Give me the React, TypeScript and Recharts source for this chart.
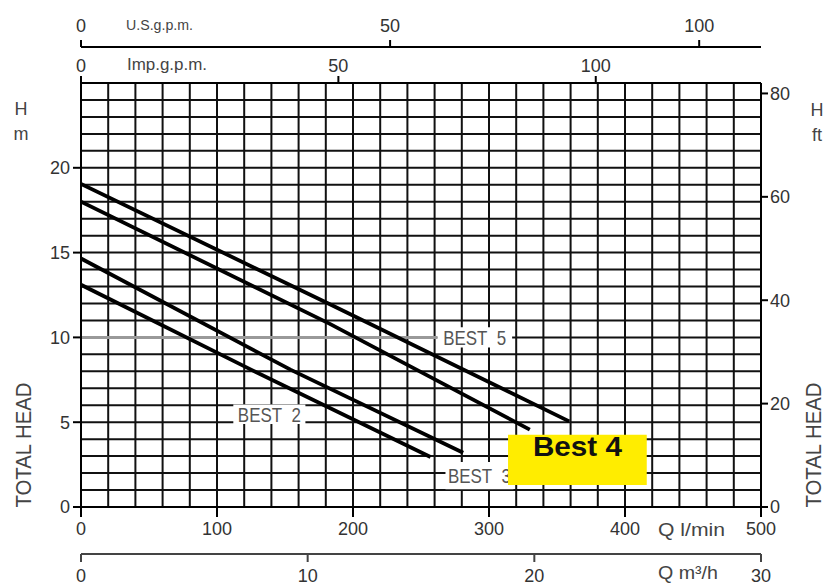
import React from 'react';
import {
  LineChart,
  Line,
  XAxis,
  YAxis,
  CartesianGrid,
  ReferenceArea,
  ReferenceLine,
} from 'recharts';

// pump curves, flow Q in l/min, head H in m
const best2 = [
  { q: 0, h: 13.1 },
  { q: 125, h: 8.1 },
  { q: 257, h: 2.95 },
];
const best3 = [
  { q: 0, h: 14.65 },
  { q: 154, h: 8.1 },
  { q: 281, h: 3.2 },
];
const best4 = [
  { q: 0, h: 18.0 },
  { q: 183, h: 10.8 },
  { q: 330, h: 4.56 },
];
const best5 = [
  { q: 0, h: 19.05 },
  { q: 183, h: 11.95 },
  { q: 359, h: 5.05 },
];

const qTicks = [0, 100, 200, 300, 400, 500];
const m3Ticks = [0, 10, 20, 30];
const usTicks = [0, 50, 100];
const impTicks = [0, 50, 100];
const mTicks = [0, 5, 10, 15, 20];
const ftTicks = [0, 20, 40, 60, 80];
const gridQ = [0, 20, 40, 60, 80, 100, 120, 140, 160, 180, 200, 220, 240, 260, 280, 300, 320, 340, 360, 380, 400, 420, 440, 460, 480, 500];
const gridH = [0, 1, 2, 3, 4, 5, 6, 7, 8, 9, 10, 11, 12, 13, 14, 15, 16, 17, 18, 19, 20, 21, 22, 23, 24, 25];

// chart-level rows so that the unit axes without series still get a domain
const baseRows = qTicks.map((q) => ({ q }));

const FONT = '"Liberation Sans", Arial, sans-serif';
const tickStyle = { fontSize: 18, fill: '#333', fontFamily: FONT };

const BoxLabel = (props: any) => {
  const { viewBox, text, size = 21, weight = 'normal', len, dy, color = '#555' } = props;
  if (!viewBox) return null;
  const { x, y, width, height } = viewBox;
  const cy = dy != null ? y + dy : y + height / 2;
  return (
    <text
      x={x + width / 2}
      y={cy}
      textAnchor="middle"
      dominantBaseline="central"
      fontSize={size}
      fontWeight={weight}
      fontFamily={FONT}
      fill={color}
      textLength={len}
      lengthAdjust="spacingAndGlyphs"
      style={{ whiteSpace: 'pre' }}
    >
      {text}
    </text>
  );
};

const curveProps = {
  dataKey: 'h',
  xAxisId: 'b1',
  yAxisId: 'm',
  type: 'linear' as const,
  dot: false,
  stroke: '#000',
  strokeWidth: 3.8,
  isAnimationActive: false,
};

const blackLine = { stroke: '#000', strokeWidth: 2 };

export default function App() {
  return (
    <div style={{ position: 'absolute', left: 0, top: 0, width: 825, height: 588 }}>
      <LineChart width={825} height={588} data={baseRows} margin={{ top: 0, right: 0, bottom: 0, left: 0 }}>
        {/* Q l/min */}
        <XAxis
          xAxisId="b1"
          dataKey="q"
          type="number"
          orientation="bottom"
          domain={[0, 500]}
          ticks={qTicks}
          interval={0}
          allowDataOverflow
          height={47}
          tickSize={10}
          tickMargin={5}
          tick={tickStyle}
          axisLine={blackLine}
          tickLine={blackLine}
        />
        {/* Q m3/h */}
        <XAxis
          xAxisId="b2"
          dataKey="q"
          type="number"
          orientation="bottom"
          domain={[0, 30]}
          ticks={m3Ticks}
          interval={0}
          allowDataOverflow
          height={34}
          tickSize={8}
          tickMargin={7}
          tick={tickStyle}
          axisLine={{ stroke: '#444', strokeWidth: 2 }}
          tickLine={{ stroke: '#444', strokeWidth: 2 }}
        />
        {/* Imp.g.p.m. */}
        <XAxis
          xAxisId="t1"
          dataKey="q"
          type="number"
          orientation="top"
          domain={[0, 132.1]}
          ticks={impTicks}
          interval={0}
          allowDataOverflow
          height={36}
          tickSize={7}
          tickMargin={4}
          tick={tickStyle}
          axisLine={blackLine}
          tickLine={blackLine}
        />
        {/* U.S.g.p.m. */}
        <XAxis
          xAxisId="t2"
          dataKey="q"
          type="number"
          orientation="top"
          domain={[0, 110]}
          ticks={usTicks}
          interval={0}
          allowDataOverflow
          height={47}
          tickSize={7}
          tickMargin={8}
          tick={tickStyle}
          axisLine={blackLine}
          tickLine={blackLine}
        />
        <YAxis
          yAxisId="m"
          type="number"
          orientation="left"
          domain={[0, 25]}
          ticks={mTicks}
          interval={0}
          allowDataOverflow
          width={81}
          tickSize={8}
          tickMargin={3}
          tick={tickStyle}
          axisLine={blackLine}
          tickLine={blackLine}
        />
        <YAxis
          yAxisId="ft"
          type="number"
          orientation="right"
          domain={[0, 82.02]}
          ticks={ftTicks}
          interval={0}
          allowDataOverflow
          width={64}
          tickSize={7}
          tickMargin={2}
          tick={tickStyle}
          axisLine={blackLine}
          tickLine={blackLine}
        />
        <CartesianGrid
          xAxisId="b1"
          yAxisId="m"
          verticalValues={gridQ}
          horizontalValues={gridH}
          stroke="#111"
          strokeWidth={2}
        />
        <ReferenceLine
          xAxisId="b1"
          yAxisId="m"
          segment={[{ x: 0, y: 10 }, { x: 262, y: 10 }]}
          stroke="#999"
          strokeWidth={3}
        />
        <ReferenceArea
          xAxisId="b1"
          yAxisId="m"
          x1={262}
          x2={317}
          y1={9.4}
          y2={10.6}
          fill="#fff"
          fillOpacity={1}
          stroke="none"
          label={<BoxLabel text={'BEST\u00A0\u00A05'} len={63} />}
        />
        <ReferenceArea
          xAxisId="b1"
          yAxisId="m"
          x1={112}
          x2={165}
          y1={4.9}
          y2={6.05}
          fill="#fff"
          fillOpacity={1}
          stroke="none"
          label={<BoxLabel text={'BEST\u00A0\u00A02'} len={63} />}
        />
        <ReferenceArea
          xAxisId="b1"
          yAxisId="m"
          x1={268}
          x2={318}
          y1={1.05}
          y2={2.65}
          fill="#fff"
          fillOpacity={1}
          stroke="none"
          label={<BoxLabel text={'BEST\u00A0\u00A03'} len={63} />}
        />
        <ReferenceArea
          xAxisId="b1"
          yAxisId="m"
          x1={314}
          x2={416}
          y1={1.3}
          y2={4.26}
          fill="#ffed00"
          fillOpacity={1}
          stroke="none"
          label={<BoxLabel text="Best 4" size={28} weight="bold" len={89} dy={12} color="#111" />}
        />
        <Line data={best2} {...curveProps} />
        <Line data={best3} {...curveProps} />
        <Line data={best4} {...curveProps} />
        <Line data={best5} {...curveProps} />
      </LineChart>
      <svg
        width={825}
        height={588}
        style={{ position: 'absolute', left: 0, top: 0, pointerEvents: 'none' }}
        fontFamily={FONT}
        fill="#444"
      >
        <text x={126} y={30} fontSize={15} textLength={67} lengthAdjust="spacingAndGlyphs">U.S.g.p.m.</text>
        <text x={127} y={70} fontSize={16} textLength={80} lengthAdjust="spacingAndGlyphs">Imp.g.p.m.</text>
        <text x={21} y={115} fontSize={18} textAnchor="middle">H</text>
        <text x={21} y={140} fontSize={18} textAnchor="middle">m</text>
        <text x={817} y={116} fontSize={18} textAnchor="middle">H</text>
        <text x={817} y={141} fontSize={18} textAnchor="middle">ft</text>
        <text
          transform="translate(31,445) rotate(-90)"
          fontSize={22}
          textAnchor="middle"
          textLength={125}
          lengthAdjust="spacingAndGlyphs"
        >
          TOTAL HEAD
        </text>
        <text
          transform="translate(821,445) rotate(-90)"
          fontSize={22}
          textAnchor="middle"
          textLength={125}
          lengthAdjust="spacingAndGlyphs"
        >
          TOTAL HEAD
        </text>
        <text x={658} y={536} fontSize={18} textLength={67} lengthAdjust="spacingAndGlyphs">Q l/min</text>
        <text x={658} y={579} fontSize={18} textLength={60} lengthAdjust="spacingAndGlyphs">Q m³/h</text>
      </svg>
    </div>
  );
}
